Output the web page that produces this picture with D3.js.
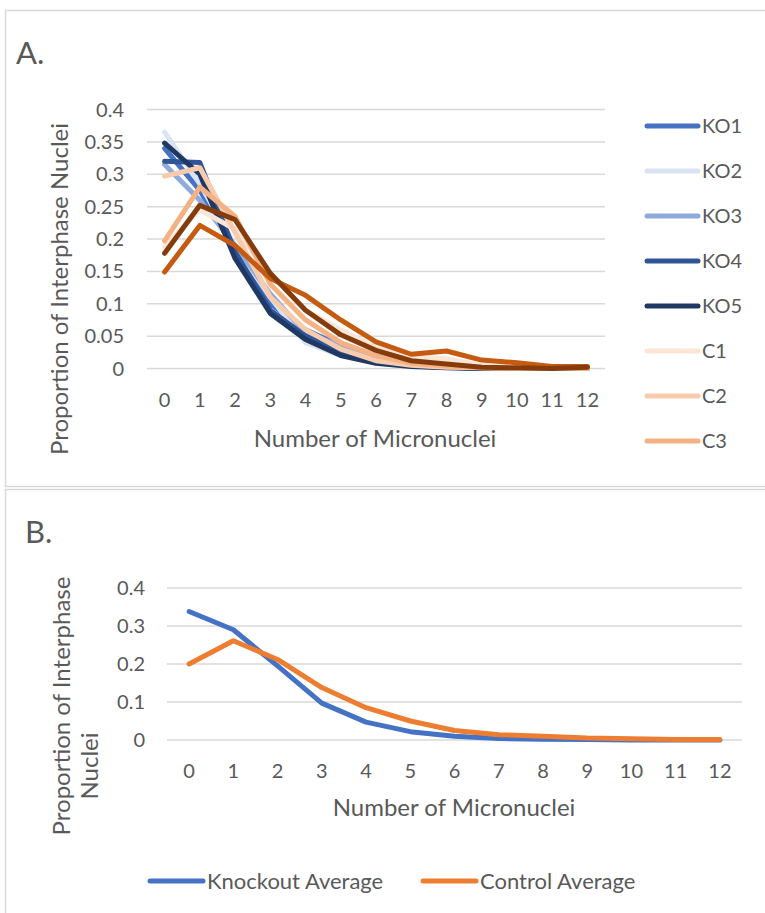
<!DOCTYPE html>
<html>
<head>
<meta charset="utf-8">
<script src="https://cdnjs.cloudflare.com/ajax/libs/d3/7.8.5/d3.min.js"></script>
<style>
  body { margin: 0; background: #fff; }
  svg text { font-family: Lato, "Open Sans", sans-serif; fill: #595959; }
</style>
</head>
<body>
<div id="chart"></div>
<script>
// number of micronuclei per cell (categories, shared by both panels)
const micronuclei = ["0", "1", "2", "3", "4", "5", "6", "7", "8", "9", "10", "11", "12"];

// panel A, one line per sample
const seriesNames = ["KO1", "KO2", "KO3", "KO4", "KO5", "C1", "C2", "C3", "C4", "C5"];
const ko1 = [0.34, 0.275, 0.185, 0.10, 0.06, 0.035, 0.015, 0.006, 0.002, 0.001, 0, 0, 0];
const ko2 = [0.365, 0.285, 0.19, 0.11, 0.04, 0.02, 0.008, 0.003, 0.001, 0, 0, 0, 0];
const ko3 = [0.315, 0.26, 0.19, 0.115, 0.055, 0.035, 0.015, 0.005, 0.002, 0.001, 0, 0, 0];
const ko4 = [0.32, 0.318, 0.18, 0.09, 0.05, 0.025, 0.01, 0.004, 0.002, 0, 0, 0, 0];
const ko5 = [0.348, 0.30, 0.17, 0.085, 0.045, 0.02, 0.008, 0.003, 0.001, 0, 0, 0, 0];
const c1 = [0.188, 0.245, 0.215, 0.145, 0.09, 0.06, 0.032, 0.018, 0.015, 0.005, 0.002, 0, 0];
const c2 = [0.297, 0.31, 0.21, 0.11, 0.06, 0.03, 0.012, 0.005, 0.002, 0.001, 0, 0, 0];
const c3 = [0.197, 0.28, 0.235, 0.13, 0.075, 0.04, 0.02, 0.008, 0.004, 0.001, 0, 0, 0];
const c4 = [0.149, 0.221, 0.19, 0.139, 0.113, 0.075, 0.041, 0.022, 0.027, 0.013, 0.009, 0.003, 0.003];
const c5 = [0.178, 0.252, 0.23, 0.147, 0.09, 0.052, 0.028, 0.012, 0.007, 0.002, 0.001, 0, 0.002];
const panelASeries = [ko1, ko2, ko3, ko4, ko5, c1, c2, c3, c4, c5];
const panelAColors = ["#4472C4", "#DAE3F3", "#8FAADC", "#2F5597", "#203864",
                      "#FBE5D6", "#F8CBAD", "#F4B183", "#C55A11", "#843C0C"];
const yTicksA = [0, 0.05, 0.1, 0.15, 0.2, 0.25, 0.3, 0.35, 0.4];

// panel B, averages
const averageNames = ["Knockout Average", "Control Average"];
const knockoutAvg = [0.338, 0.29, 0.195, 0.097, 0.047, 0.022, 0.01, 0.004, 0.002, 0.001, 0, 0, 0];
const controlAvg = [0.2, 0.261, 0.212, 0.138, 0.085, 0.05, 0.025, 0.014, 0.01, 0.005, 0.003, 0.001, 0.001];
const averageColors = ["#4472C4", "#ED7D31"];
const yTicksB = [0, 0.1, 0.2, 0.3, 0.4];

const svg = d3.select("#chart").append("svg")
    .attr("width", 765)
    .attr("height", 913);

// chart frames
svg.append("rect").attr("x", 5.5).attr("y", 10.5).attr("width", 780).attr("height", 476)
    .attr("fill", "none").attr("stroke", "#d9d9d9").attr("stroke-width", 1.5);
svg.append("rect").attr("x", 5.5).attr("y", 489.5).attr("width", 780).attr("height", 440)
    .attr("fill", "none").attr("stroke", "#d9d9d9").attr("stroke-width", 1.5);

function drawPanel(opts) {
    const g = svg.append("g");
    const x = d3.scaleBand().domain(micronuclei).range([opts.left, opts.right]);
    const y = d3.scaleLinear().domain([0, 0.4]).range([opts.bottom, opts.top]);

    // gridlines
    g.selectAll(".grid").data(opts.ticks).enter().append("line")
        .attr("x1", opts.left).attr("x2", opts.right)
        .attr("y1", d => y(d)).attr("y2", d => y(d))
        .attr("stroke", "#d9d9d9").attr("stroke-width", 1.5);

    // y tick labels
    g.selectAll(".ylab").data(opts.ticks).enter().append("text")
        .attr("x", opts.yLabelX).attr("y", d => y(d))
        .attr("dy", "0.35em").attr("text-anchor", "end")
        .style("font-size", "20px")
        .text(d => d3.format("~g")(d));

    // x tick labels
    g.selectAll(".xlab").data(micronuclei).enter().append("text")
        .attr("x", d => x(d) + x.bandwidth() / 2).attr("y", opts.bottom + 31)
        .attr("dy", "0.35em").attr("text-anchor", "middle")
        .style("font-size", "20px")
        .text(d => d);

    // lines
    const line = d3.line()
        .x((d, i) => x(micronuclei[i]) + x.bandwidth() / 2)
        .y(d => y(d));
    opts.series.forEach((s, i) => {
        g.append("path").datum(s)
            .attr("d", line)
            .attr("fill", "none")
            .attr("stroke", opts.colors[i])
            .attr("stroke-width", 5)
            .attr("stroke-linejoin", "round")
            .attr("stroke-linecap", "round");
    });
    return { x: x, y: y };
}

// ---- panel A ----
svg.append("text").attr("x", 16).attr("y", 64).style("font-size", "31px").text("A.");
drawPanel({
    left: 147, right: 605, top: 109.5, bottom: 368.5, yLabelX: 124,
    ticks: yTicksA, series: panelASeries, colors: panelAColors
});
svg.append("text")
    .attr("transform", "translate(68,289) rotate(-90)")
    .attr("text-anchor", "middle").style("font-size", "24px")
    .text("Proportion of Interphase Nuclei");
svg.append("text").attr("x", 375).attr("y", 447)
    .attr("text-anchor", "middle").style("font-size", "24px")
    .text("Number of Micronuclei");

// legend A, clipped by the frame so only the first eight entries show
const legendA = svg.append("g");
seriesNames.slice(0, 8).forEach((name, i) => {
    const ly = 126 + i * 45;
    legendA.append("line").attr("x1", 647).attr("x2", 698).attr("y1", ly).attr("y2", ly)
        .attr("stroke", panelAColors[i]).attr("stroke-width", 5).attr("stroke-linecap", "round");
    legendA.append("text").attr("x", 702).attr("y", ly).attr("dy", "0.35em")
        .style("font-size", "20px").text(name);
});

// ---- panel B ----
svg.append("text").attr("x", 25).attr("y", 543).style("font-size", "31px").text("B.");
drawPanel({
    left: 167, right: 742, top: 588, bottom: 740, yLabelX: 145,
    ticks: yTicksB, series: [knockoutAvg, controlAvg], colors: averageColors
});
const yTitleB = svg.append("text")
    .attr("transform", "rotate(-90)")
    .attr("text-anchor", "middle").style("font-size", "24px");
yTitleB.append("tspan").attr("x", -706).attr("y", 70).text("Proportion of Interphase");
yTitleB.append("tspan").attr("x", -766).attr("y", 98).text("Nuclei");
svg.append("text").attr("x", 454).attr("y", 816)
    .attr("text-anchor", "middle").style("font-size", "24px")
    .text("Number of Micronuclei");

const legendB = svg.append("g");
const legendBX = [150, 423];
averageNames.forEach((name, i) => {
    legendB.append("line").attr("x1", legendBX[i]).attr("x2", legendBX[i] + 53)
        .attr("y1", 881).attr("y2", 881)
        .attr("stroke", averageColors[i]).attr("stroke-width", 5).attr("stroke-linecap", "round");
    legendB.append("text").attr("x", legendBX[i] + 57).attr("y", 881).attr("dy", "0.35em")
        .style("font-size", "22px").text(name);
});
</script>
</body>
</html>
